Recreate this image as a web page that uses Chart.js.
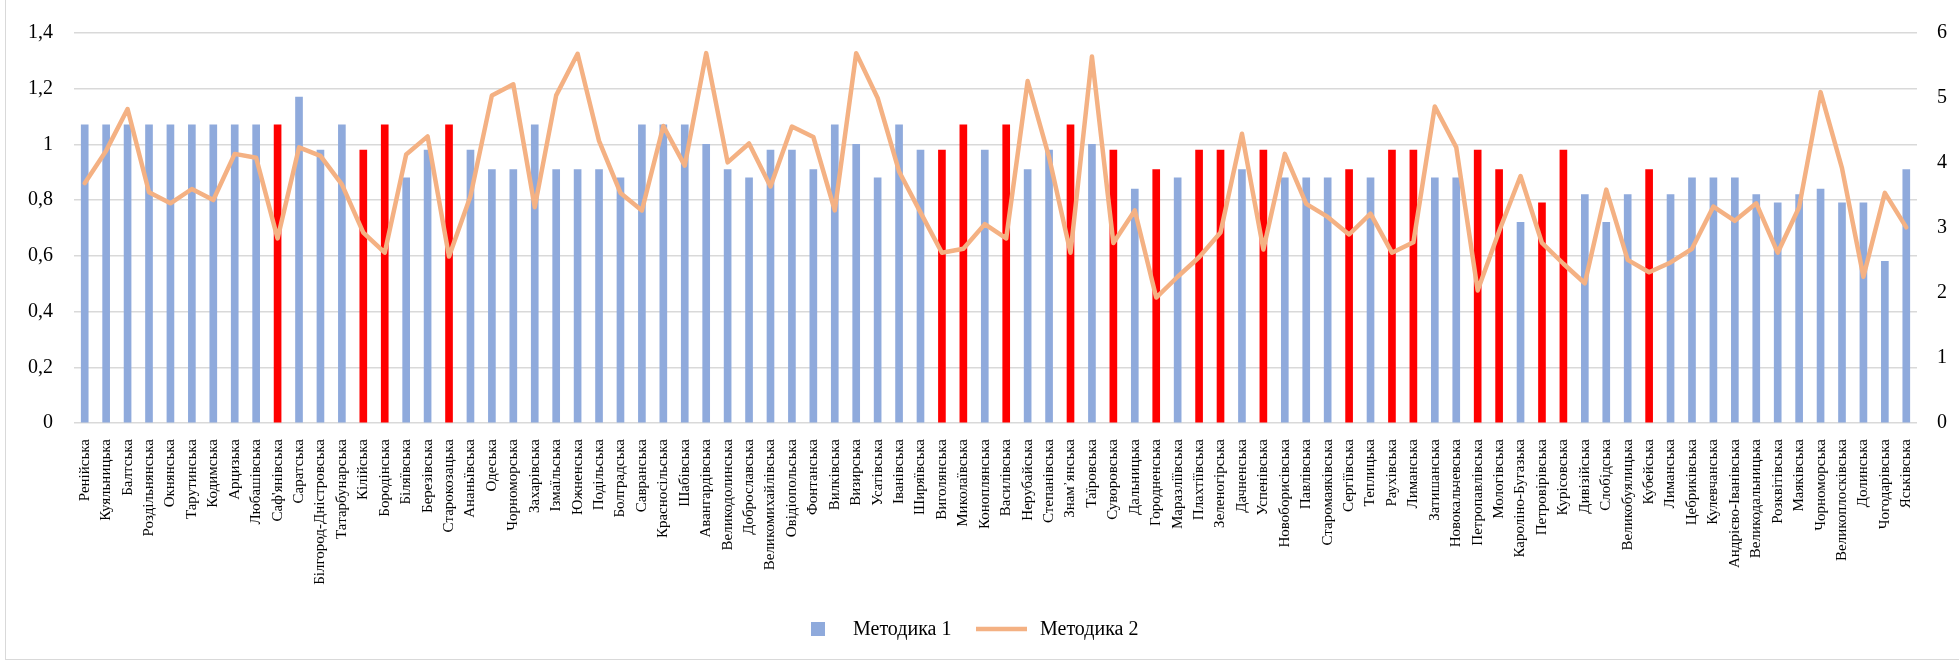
<!DOCTYPE html>
<html>
<head>
<meta charset="utf-8">
<script src="https://cdn.jsdelivr.net/npm/chart.js@4"></script>
<style>
  html, body { margin: 0; padding: 0; background: #fff; }
  #wrap { position: relative; width: 1959px; height: 661px; }
  canvas { display: block; }
</style>
</head>
<body>
<div id="wrap"><canvas id="c" width="1959" height="661"></canvas></div>
<script>
const categories = [
  "Ренійська","Куяльницька","Балтська","Роздільнянська","Окнянська","Тарутинська","Кодимська","Арцизька","Любашівська","Саф'янівська","Саратська","Білгород-Дністровська",
  "Татарбунарська","Кілійська","Бородінська","Біляївська","Березівська","Старокозацька","Ананьївська","Одеська","Чорноморська","Захарівська","Ізмаїльська","Южненська","Подільська","Болградська","Савранська","Красносільська",
  "Шабівська","Авангардівська","Великодолинська","Доброславська","Великомихайлівська","Овідіопольська","Фонтанська","Вилківська","Визирська","Усатівська","Іванівська","Ширяївська","Виголянська","Миколаївська","Коноплянська",
  "Василівська","Нерубайська","Степанівська","Знам᾽янська","Таїровська","Суворовська","Дальницька","Городненська","Маразліївська","Плахтіївська","Зеленогірська","Дачненська","Успенівська","Новоборисівська","Павлівська","Старомаяківська",
  "Сергіївська","Теплицька","Раухівська","Лиманська","Затишанська","Новокальчевська","Петропавлівська","Мологівська","Кароліно-Бугазька","Петровірівська","Курісовська","Дивізійська","Слобідська","Великобуялицька","Кубейська",
  "Лиманська","Цебриківська","Кулевчанська","Андрієво-Іванівська","Великодальницька","Розквітівська","Маяківська","Чорноморська","Великоплосківська","Долинська","Чогодарівська","Яськівська"
];

const method1 = [
  1.07,1.07,1.07,1.07,1.07,1.07,1.07,1.07,1.07,1.07,1.17,0.98,
  1.07,0.98,1.07,0.88,0.98,1.07,0.98,0.91,0.91,1.07,0.91,0.91,0.91,0.88,1.07,1.07,
  1.07,1.00,0.91,0.88,0.98,0.98,0.91,1.07,1.00,0.88,1.07,0.98,0.98,1.07,0.98,
  1.07,0.91,0.98,1.07,1.00,0.98,0.84,0.91,0.88,0.98,0.98,0.91,0.98,0.88,0.88,0.88,
  0.91,0.88,0.98,0.98,0.88,0.88,0.98,0.91,0.72,0.79,0.98,0.82,0.72,0.82,0.91,
  0.82,0.88,0.88,0.88,0.82,0.79,0.82,0.84,0.79,0.79,0.58,0.91
];

const method2 = [
  3.69,4.19,4.83,3.55,3.38,3.60,3.43,4.14,4.08,2.84,4.24,4.11,
  3.67,2.93,2.62,4.13,4.41,2.56,3.49,5.04,5.21,3.32,5.04,5.68,4.34,3.54,3.27,4.57,
  3.96,5.69,4.01,4.30,3.64,4.56,4.40,3.27,5.69,5.00,3.87,3.24,2.62,2.68,3.06,
  2.84,5.26,4.09,2.62,5.64,2.77,3.27,1.93,2.25,2.55,2.93,4.45,2.67,4.14,3.37,3.17,
  2.90,3.22,2.62,2.78,4.87,4.24,2.04,2.95,3.80,2.77,2.45,2.15,3.59,2.51,2.32,
  2.47,2.68,3.33,3.11,3.38,2.62,3.32,5.09,3.92,2.25,3.54,3.01
];

// 1 = bar highlighted in red
const highlighted = [
  0,0,0,0,0,0,0,0,0,1,0,0,
  0,1,1,0,0,1,0,0,0,0,0,0,0,0,0,0,
  0,0,0,0,0,0,0,0,0,0,0,0,1,1,0,
  1,0,0,1,0,1,0,1,0,1,1,0,1,0,0,0,
  1,0,1,1,0,0,1,1,0,1,1,0,0,0,1,
  0,0,0,0,0,0,0,0,0,0,0,0
];

const leftTicks = [0, 0.2, 0.4, 0.6, 0.8, 1, 1.2, 1.4];
const rightTicks = [0, 1, 2, 3, 4, 5, 6];
const seriesNames = ["Методика 1", "Методика 2"];

const BLUE = "#8FAADC", RED = "#FF0000", ORANGE = "#F4B183", GRID = "#D9D9D9";
const FONT = "'Liberation Serif', 'Times New Roman', serif";

const fmt = v => String(+(+v).toFixed(1)).replace('.', ',');

const frame = {
  id: 'frame',
  beforeDraw(chart) {
    const ctx = chart.ctx;
    ctx.save();
    ctx.strokeStyle = GRID;
    ctx.lineWidth = 1;
    ctx.strokeRect(5.5, -5, 2100, 664.5);
    ctx.restore();
  }
};

const legendPlugin = {
  id: 'customLegend',
  afterDraw(chart) {
    const ctx = chart.ctx;
    ctx.save();
    ctx.font = "20px " + FONT;
    ctx.textBaseline = 'middle';
    const y = 629;
    ctx.fillStyle = BLUE;
    ctx.fillRect(811, y - 7, 14, 14);
    ctx.fillStyle = '#000';
    ctx.fillText(seriesNames[0], 853, y + 1);
    ctx.strokeStyle = ORANGE;
    ctx.lineWidth = 4.5;
    ctx.beginPath();
    ctx.moveTo(976, y);
    ctx.lineTo(1027, y);
    ctx.stroke();
    ctx.fillText(seriesNames[1], 1040, y + 1);
    ctx.restore();
  }
};

new Chart(document.getElementById('c'), {
  data: {
    labels: categories,
    datasets: [
      {
        type: 'line',
        label: seriesNames[1],
        data: method2,
        yAxisID: 'y1',
        borderColor: ORANGE,
        backgroundColor: ORANGE,
        borderWidth: 4.5,
        pointRadius: 0,
        tension: 0,
        borderJoinStyle: 'round',
        borderCapStyle: 'round',
        order: 0
      },
      {
        type: 'bar',
        label: seriesNames[0],
        data: method1,
        yAxisID: 'y',
        backgroundColor: highlighted.map(h => h ? RED : BLUE),
        barThickness: 7,
        order: 1
      }
    ]
  },
  options: {
    responsive: false,
    animation: false,
    layout: { padding: { top: 20, bottom: 47, left: 0, right: 0 } },
    plugins: {
      legend: { display: false },
      tooltip: { enabled: false }
    },
    scales: {
      x: {
        offset: true,
        grid: { display: false },
        border: { display: false },
        ticks: {
          autoSkip: false,
          minRotation: 90,
          maxRotation: 90,
          padding: 8,
          color: '#000',
          font: { family: FONT, size: 15 }
        },
        afterFit(scale) { scale.height = 191; }
      },
      y: {
        position: 'left',
        min: 0,
        max: 1.4,
        afterBuildTicks(scale) { scale.ticks = leftTicks.map(v => ({ value: v })); },
        grid: { color: GRID, lineWidth: 1.5, drawTicks: false },
        border: { display: false },
        ticks: {
          padding: 21,
          color: '#000',
          font: { family: FONT, size: 20 },
          callback: v => fmt(v)
        },
        afterFit(scale) { scale.width = 74; }
      },
      y1: {
        position: 'right',
        min: 0,
        max: 6,
        afterBuildTicks(scale) { scale.ticks = rightTicks.map(v => ({ value: v })); },
        grid: { display: false, drawTicks: false },
        border: { display: false },
        ticks: {
          padding: 20,
          color: '#000',
          font: { family: FONT, size: 20 },
          callback: v => String(v)
        },
        afterFit(scale) { scale.width = 42; }
      }
    }
  },
  plugins: [frame, legendPlugin]
});
</script>
</body>
</html>
